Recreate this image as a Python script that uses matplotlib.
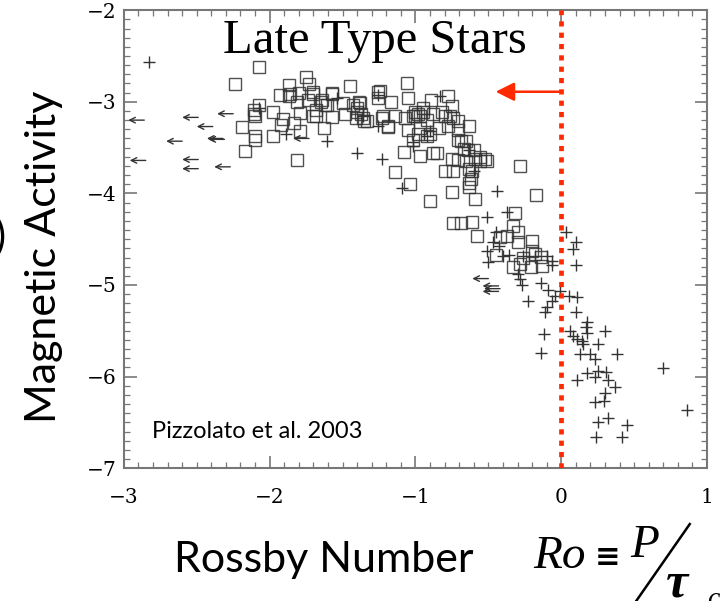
import matplotlib
matplotlib.use("Agg")
import matplotlib.pyplot as plt
from matplotlib.lines import Line2D
from matplotlib.ticker import MultipleLocator

plt.rcParams['font.family'] = 'DejaVu Serif'

# saturated stars / detections (open squares)
sq_x = [-2.24, -2.07, -1.75, -1.87, -1.73, -1.45, -1.93, -1.86, -1.80, -1.70, -1.57, -1.81, -1.74,
        -1.65, -1.61, -1.50, -1.43, -1.38, -1.26, -1.17, -1.06, -1.05, -2.07, -2.11, -2.10, -1.98,
        -1.91, -1.92, -1.83, -1.79, -1.70, -1.68, -1.57, -1.48, -1.40, -1.36, -1.33, -1.23, -1.19,
        -1.14, -1.07, -1.00, -2.19, -2.10, -2.10, -1.98, -1.79, -1.63, -2.17, -1.81, -1.08, -1.14,
        -1.04, -1.05, -1.87, -1.70, -1.64, -1.62, -1.57, -1.39, -1.40, -1.37, -1.35, -1.24, -1.26,
        -1.41, -1.22, -1.19, -2.11, -1.68,
        -0.89, -0.78, -0.75, -0.95, -0.98, -1.02, -0.88, -0.80, -0.74, -0.63, -0.97, -0.90, -0.84,
        -0.78, -0.71, -0.71, -0.65, -0.64, -0.88, -0.85, -0.97, -0.75, -0.71, -0.65, -0.59, -0.56,
        -0.51, -0.63, -0.61, -0.62, -0.28, -0.80, -0.74, -0.17, -1.00, -0.97, -0.95, -0.92, -0.82,
        -0.76, -0.71, -0.67, -0.60, -0.98, -0.92, -1.02, -0.56, -0.52, -0.69,
        -0.75, -0.63, -0.63, -0.90, -0.59, -0.32, -0.74, -0.69, -0.61, -0.33, -0.30, -0.58, -0.42,
        -0.37, -0.30, -0.20, -0.45, -0.20, -0.18, -0.14, -0.26, -0.13, -0.21, -0.33, -0.28]
sq_y = [-2.81, -2.62, -2.73, -2.82, -2.81, -2.83, -2.93, -2.92, -2.90, -2.91, -2.92, -3.00, -2.98,
        -3.00, -3.03, -3.01, -3.04, -3.01, -2.89, -3.00, -2.79, -2.96, -3.04, -3.09, -3.15, -3.11,
        -3.19, -3.25, -3.23, -3.12, -3.15, -3.09, -3.17, -3.13, -3.11, -3.18, -3.21, -3.18, -3.26,
        -3.16, -3.18, -3.16, -3.28, -3.37, -3.42, -3.37, -3.32, -3.29, -3.54, -3.63, -3.55, -3.77,
        -3.90, -3.31, -2.94, -2.89, -2.98, -3.04, -2.90, -3.00, -3.07, -3.13, -3.21, -2.88, -2.96,
        -3.18, -3.16, -3.27, -3.13, -3.16,
        -2.98, -2.94, -3.05, -3.07, -3.13, -3.16, -3.13, -3.16, -3.18, -3.26, -3.29, -3.35, -3.29,
        -3.26, -3.31, -3.42, -3.43, -3.53, -3.56, -3.56, -3.59, -3.62, -3.64, -3.65, -3.62, -3.65,
        -3.65, -3.73, -3.76, -3.84, -3.70, -3.76, -3.75, -4.02, -3.11, -3.15, -3.11, -3.20, -3.11,
        -3.16, -3.21, -3.51, -3.53, -3.35, -3.37, -3.42, -3.60, -3.62, -3.43,
        -3.98, -3.93, -3.89, -4.08, -4.06, -4.21, -4.32, -4.32, -4.31, -4.36, -4.42, -4.47, -4.48,
        -4.46, -4.53, -4.52, -4.67, -4.63, -4.66, -4.69, -4.71, -4.79, -4.80, -4.80, -4.77]

# unsaturated stars (plus signs)
pl_x = [-2.83, -1.89, -1.61, -1.40, -1.23, -1.09, -1.02, -2.07, -1.26, -1.54, -1.26, -1.36, -0.83,
        -0.92, -0.63, -0.44, -1.02, -0.90, -0.60,
        -0.37, -0.51, -0.45, -0.47, -0.43, -0.51, -0.40, -0.50, -0.36, -0.26, -0.18, -0.06, -0.06,
        -0.10, 0.03, 0.10, 0.08, 0.10, -0.30, -0.28, -0.27, -0.14, -0.09, -0.04, -0.01, 0.05, 0.11,
        -0.23, -0.10, -0.11, -0.06, 0.10, 0.18, 0.17, 0.30, -0.12, 0.06, 0.08, 0.18, 0.11, 0.14,
        0.15, 0.25, -0.14, 0.13, 0.20, 0.23, 0.38, 0.70, 0.18, 0.11, 0.23, 0.25, 0.31, 0.32, 0.37,
        0.30, 0.23, 0.29, 0.86, 0.25, 0.32, 0.45, 0.24, 0.42]
pl_y = [-2.56, -3.35, -3.43, -3.56, -3.62, -3.94, -3.44, -3.07, -3.26, -2.96, -2.93, -3.15, -2.94,
        -3.37, -3.53, -3.97, -3.48, -3.32, -3.75,
        -4.20, -4.26, -4.42, -4.53, -4.57, -4.63, -4.68, -4.75, -4.67, -4.68, -4.68, -4.74, -4.78,
        -4.68, -4.42, -4.53, -4.61, -4.78, -4.88, -4.93, -5.00, -4.98, -5.06, -5.12, -5.07, -5.12,
        -5.13, -5.18, -5.24, -5.29, -5.17, -5.29, -5.40, -5.46, -5.50, -5.53, -5.50, -5.56, -5.52,
        -5.59, -5.61, -5.64, -5.64, -5.74, -5.75, -5.75, -5.81, -5.75, -5.91, -5.96, -6.04, -6.00,
        -5.94, -5.95, -6.04, -6.11, -6.18, -6.28, -6.27, -6.37, -6.50, -6.45, -6.53, -6.66, -6.66]

# upper limits (left arrows), tip positions
ul_x = [-2.97, -2.96, -2.60, -2.50, -2.43, -2.42, -2.71, -2.36, -2.60, -2.60, -2.38, -1.84,
        -0.61, -0.54, -0.54, -0.53]
ul_y = [-3.20, -3.64, -3.17, -3.27, -3.40, -3.41, -3.43, -3.13, -3.63, -3.73, -3.71, -3.40,
        -4.93, -5.01, -5.07, -5.04]

ro_sat = 0.0
arrow_y = -2.89
arrow_tip = -0.45

fig = plt.figure(figsize=(7.2, 6.01), dpi=100)
ax = fig.add_axes([0.172, 0.221, 0.810, 0.762])

mk = '#333333'
ax.plot(sq_x, sq_y, 's', mfc='none', mec=mk, ms=8.5, mew=1.0, alpha=0.85)
ax.plot(pl_x, pl_y, '+', color=mk, ms=9, mew=1.0)
for x, y in zip(ul_x, ul_y):
    ax.annotate('', xy=(x, y), xytext=(x + 0.11, y),
                arrowprops=dict(arrowstyle='->', color=mk, lw=1.0, mutation_scale=10,
                                shrinkA=0, shrinkB=0))

red = '#ff2a00'
ax.axvline(ro_sat, color=red, lw=3.4, linestyle=(0, (1.1, 1.3)), zorder=5)
ax.annotate('', xy=(arrow_tip, arrow_y), xytext=(ro_sat, arrow_y),
            arrowprops=dict(arrowstyle='-|>', color=red, lw=1.8, mutation_scale=28,
                            shrinkA=0, shrinkB=0))

ax.set_xlim(-3, 1)
ax.set_ylim(-7, -2)
ax.xaxis.set_major_locator(MultipleLocator(1))
ax.xaxis.set_minor_locator(MultipleLocator(0.1))
ax.yaxis.set_major_locator(MultipleLocator(1))
ax.yaxis.set_minor_locator(MultipleLocator(0.1))
ax.tick_params(which='both', direction='in', top=True, right=True, color='#777777')
ax.tick_params(which='major', length=9, width=1.2, labelsize=14.5)
ax.tick_params(which='minor', length=4, width=0.9)
ax.tick_params(axis='x', which='major', pad=14)
ax.tick_params(axis='y', which='major', pad=5)
for s in ax.spines.values():
    s.set_color('#777777')
    s.set_linewidth(1.5)

ax.text(-1.28, -2.47, 'Late Type Stars', family='Liberation Serif', fontsize=35,
        ha='center', va='baseline')
ax.text(-2.81, -6.6, 'Pizzolato et al. 2003', family='Lato', fontsize=17,
        ha='left', va='center')

fig.text(0.061, 0.572, 'Magnetic Activity', family='Lato', fontsize=31,
         rotation=90, ha='center', va='center')
fig.text(-0.008, 0.605, ')', family='Lato', fontsize=30, ha='left', va='center')
fig.text(0.449, 0.048, 'Rossby Number', family='Lato', fontsize=31,
         ha='center', va='baseline')

# Rossby number definition
fig.text(0.740, 0.055, 'Ro', family='Liberation Serif', style='italic', fontsize=34,
         ha='left', va='baseline')
fig.text(0.826, 0.073, '≡', family='DejaVu Sans', fontsize=22, weight='bold',
         ha='left', va='center')
fig.text(0.876, 0.073, 'P', family='Liberation Serif', style='italic', fontsize=34,
         ha='left', va='baseline')
fig.add_artist(Line2D([0.958, 0.872], [0.128, -0.02], transform=fig.transFigure,
                      color='black', lw=1.8))
fig.text(0.925, 0.007, 'τ', family='Liberation Serif', style='italic', weight='bold',
         fontsize=36, ha='left', va='baseline')
fig.text(0.982, -0.008, 'c', family='Liberation Serif', style='italic', fontsize=20,
         ha='left', va='baseline')

fig.savefig('out.png', dpi=100)
